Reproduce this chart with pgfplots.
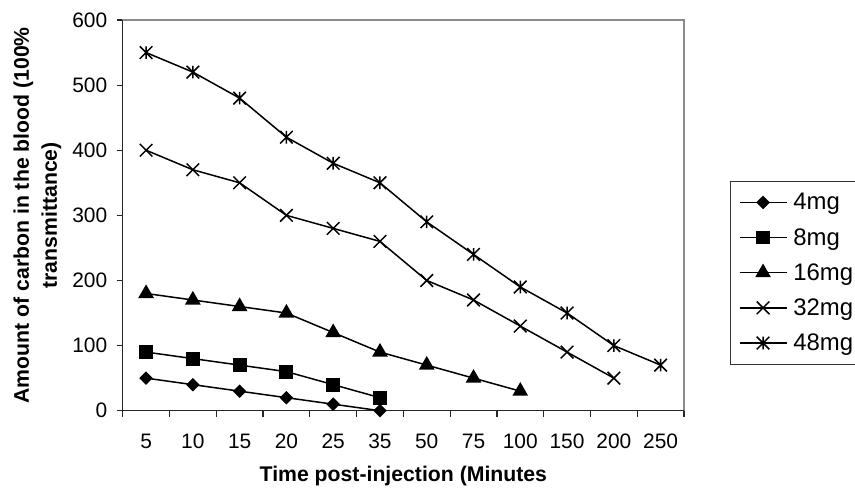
\documentclass[border=0pt]{standalone}
\usepackage{fontspec}
\setmainfont{Liberation Sans}
\usepackage{pgfplots}
\pgfplotsset{compat=1.18}
\pgfdeclareplotmark{xdiam}{%
  \pgfpathmoveto{\pgfqpoint{0pt}{\pgfplotmarksize}}%
  \pgfpathlineto{\pgfqpoint{\pgfplotmarksize}{0pt}}%
  \pgfpathlineto{\pgfqpoint{0pt}{-\pgfplotmarksize}}%
  \pgfpathlineto{\pgfqpoint{-\pgfplotmarksize}{0pt}}%
  \pgfpathclose\pgfusepathqfillstroke}
\pgfdeclareplotmark{xcross}{%
  \pgfpathmoveto{\pgfqpoint{-\pgfplotmarksize}{-\pgfplotmarksize}}%
  \pgfpathlineto{\pgfqpoint{\pgfplotmarksize}{\pgfplotmarksize}}%
  \pgfpathmoveto{\pgfqpoint{-\pgfplotmarksize}{\pgfplotmarksize}}%
  \pgfpathlineto{\pgfqpoint{\pgfplotmarksize}{-\pgfplotmarksize}}%
  \pgfusepathqstroke}
\pgfdeclareplotmark{xstar}{%
  \pgfpathmoveto{\pgfqpoint{-\pgfplotmarksize}{-\pgfplotmarksize}}%
  \pgfpathlineto{\pgfqpoint{\pgfplotmarksize}{\pgfplotmarksize}}%
  \pgfpathmoveto{\pgfqpoint{-\pgfplotmarksize}{\pgfplotmarksize}}%
  \pgfpathlineto{\pgfqpoint{\pgfplotmarksize}{-\pgfplotmarksize}}%
  \pgfpathmoveto{\pgfqpoint{0pt}{-\pgfplotmarksize}}%
  \pgfpathlineto{\pgfqpoint{0pt}{\pgfplotmarksize}}%
  \pgfusepathqstroke}
\begin{document}
\begin{tikzpicture}
\useasboundingbox (0bp,0bp) rectangle (855bp,488bp);
\begin{axis}[
  at={(122.7bp,77.3bp)}, anchor=south west,
  scale only axis, width=561.3bp, height=390.7bp,
  xmin=0.5, xmax=12.5, ymin=0, ymax=600,
  clip=false,
  xtick={1,...,12},
  xticklabels={5,10,15,20,25,35,50,75,100,150,200,250},
  minor xtick={0.5,1.5,...,12.5},
  ytick={0,100,...,600},
  xtick pos=bottom, ytick pos=left,
  tick align=outside,
  major tick length=6bp, minor tick length=6bp,
  major x tick style={draw=none},
  tick style={black!85, line width=1.2bp},
  axis line style={black!45, line width=1.3bp},
  /pgf/number format/assume math mode=true,
  tick label style={font=\fontsize{21}{21}\selectfont, black},
  xticklabel style={yshift=-14bp},
  yticklabel style={xshift=-6bp},
  xlabel={Time post-injection (Minutes},
  ylabel={Amount of carbon in the blood (100\%\\transmittance)},
  xlabel style={font=\bfseries\fontsize{21.3}{21}\selectfont, at={(axis description cs:0.5,-0.1825)}, anchor=base},
  ylabel style={font=\bfseries\fontsize{21.3}{28}\selectfont, align=center, at={(axis description cs:-0.152,0.5)}, anchor=center},
  legend style={at={(axis description cs:1.0825,0.588)}, anchor=north west,
    draw=black!80, line width=1bp, font=\fontsize{24}{24}\selectfont,
    inner xsep=8bp, inner ysep=10bp, row sep=13bp, column sep=4bp,
    cells={anchor=west}},
  legend image code/.code={\draw[mark repeat=2,mark phase=2] plot coordinates {(0bp,0bp) (23.5bp,0bp) (47bp,0bp)};},
]
\draw[black!85, line width=1.5bp] (rel axis cs:0,1) -- (rel axis cs:0,0) -- (rel axis cs:1,0);
\addplot[black, line width=1.5bp, mark=xdiam, mark size=5.7bp, mark options={solid, fill=black}] coordinates {(1,50)(2,40)(3,30)(4,20)(5,10)(6,0)};
\addplot[black, line width=1.5bp, mark=square*, mark size=6.2bp, mark options={solid, fill=black}] coordinates {(1,90)(2,80)(3,70)(4,60)(5,40)(6,20)};
\addplot[black, line width=1.5bp, mark=triangle*, mark size=7.6bp, mark options={solid, fill=black}] coordinates {(1,180)(2,170)(3,160)(4,150)(5,120)(6,90)(7,70)(8,50)(9,30)};
\addplot[black, line width=1.5bp, mark=xcross, mark size=6.3bp, mark options={solid}] coordinates {(1,400)(2,370)(3,350)(4,300)(5,280)(6,260)(7,200)(8,170)(9,130)(10,90)(11,50)};
\addplot[black, line width=1.5bp, mark=xstar, mark size=6.3bp, mark options={solid}] coordinates {(1,550)(2,520)(3,480)(4,420)(5,380)(6,350)(7,290)(8,240)(9,190)(10,150)(11,100)(12,70)};
\legend{4mg,8mg,16mg,32mg,48mg}
\end{axis}
\end{tikzpicture}
\end{document}
